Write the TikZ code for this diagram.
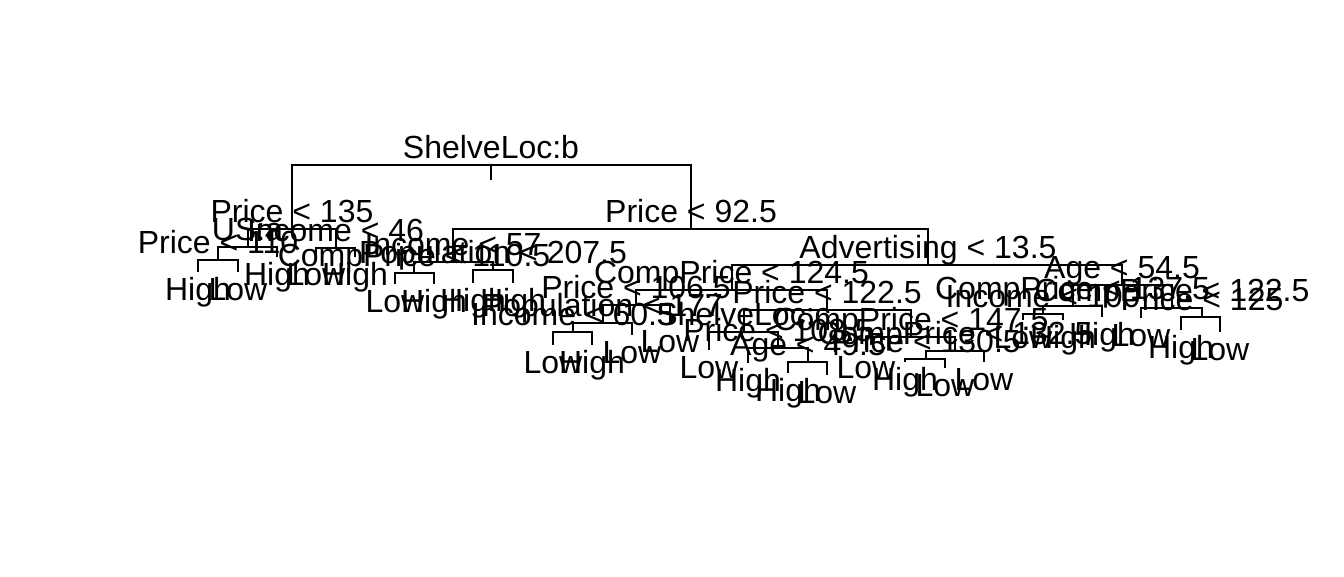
\documentclass[tikz,border=0pt]{standalone}
\usepackage{fontspec}
\setmainfont{Liberation Sans}
\usetikzlibrary{positioning}

\begin{document}
\begin{tikzpicture}[
    x=1pt, y=-1pt,
    split/.style={anchor=base, yshift=7pt, inner sep=0pt, font=\fontsize{32}{38}\selectfont},
    leaf/.style={anchor=base, yshift=-28pt, inner sep=0pt, font=\fontsize{32}{38}\selectfont},
    branch/.style={line width=2pt}
]
\useasboundingbox (0,0) rectangle (1344,576);

% Split points
\coordinate (shelve) at (491,165);
\coordinate (stub) at (491,180);
\coordinate (price135) at (292,229);
\coordinate (price925) at (691,229);
\coordinate (us) at (247.5,247);
\coordinate (inc46) at (335.5,248);
\coordinate (price110) at (218,260);
\coordinate (inc57) at (453,262);
\coordinate (cp1105) at (414,273);
\coordinate (pop2075) at (493,270);
\coordinate (adv) at (928,265);
\coordinate (cp1245) at (731.5,290);
\coordinate (price1065) at (636,305);
\coordinate (pop177) at (602.5,323);
\coordinate (inc605) at (573,332);
\coordinate (price1225) at (827,310);
\coordinate (shelvec) at (743.5,332);
\coordinate (price1085) at (778,348);
\coordinate (age495) at (808,362);
\coordinate (cp1475) at (911,337);
\coordinate (cp1325) at (955,351);
\coordinate (price1305) at (926,359);
\coordinate (age545) at (1122,285);
\coordinate (cp1375) at (1072.5,306);
\coordinate (inc100) at (1043,314);
\coordinate (cp1225) at (1172,308);
\coordinate (price125) at (1202,317);

% Leaves
\coordinate (l0) at (198,272);
\coordinate (l1) at (238,272);
\coordinate (l2) at (277,257);
\coordinate (l3) at (316,257);
\coordinate (l4) at (355,257);
\coordinate (l5) at (395,284);
\coordinate (l6) at (434,284);
\coordinate (l7) at (473,283);
\coordinate (l8) at (513,283);
\coordinate (l9) at (553,345);
\coordinate (l10) at (592,345);
\coordinate (l11) at (632,335);
\coordinate (l12) at (670,324);
\coordinate (l13) at (709,350);
\coordinate (l14) at (748,363);
\coordinate (l15) at (788,373);
\coordinate (l16) at (827,375);
\coordinate (l17) at (866,350);
\coordinate (l18) at (905,362);
\coordinate (l19) at (945,368);
\coordinate (l20) at (984,362);
\coordinate (l21) at (1023,320);
\coordinate (l22) at (1063,320);
\coordinate (l23) at (1102,317);
\coordinate (l24) at (1141,318);
\coordinate (l25) at (1181,330);
\coordinate (l26) at (1220,332);

% Branches
\draw[branch] (shelve) -- (stub);
\foreach \p/\c in {shelve/price135, shelve/price925,
    price135/us, price135/inc46, us/price110, us/l2, price110/l0, price110/l1,
    inc46/l3, inc46/l4,
    price925/inc57, price925/adv, inc57/cp1105, inc57/pop2075,
    cp1105/l5, cp1105/l6, pop2075/l7, pop2075/l8,
    adv/cp1245, adv/age545, cp1245/price1065, cp1245/price1225,
    price1065/pop177, price1065/l12, pop177/inc605, pop177/l11, inc605/l9, inc605/l10,
    price1225/shelvec, price1225/cp1475, shelvec/l13, shelvec/price1085,
    price1085/l14, price1085/age495, age495/l15, age495/l16,
    cp1475/l17, cp1475/cp1325, cp1325/price1305, cp1325/l20,
    price1305/l18, price1305/l19,
    age545/cp1375, age545/cp1225, cp1375/inc100, cp1375/l23,
    inc100/l21, inc100/l22, cp1225/l24, cp1225/price125,
    price125/l25, price125/l26}
    \draw[branch] (\p) -| (\c);

% Split labels
\node[split] (t-shelve) at (shelve) {ShelveLoc:b};
\node[split] (t-price135) at (price135) {Price < 135};
\node[split] (t-price925) at (price925) {Price < 92.5};
\node[split] (t-us) at (us) {US:a};
\node[split] (t-inc46) at (inc46) {Income < 46};
\node[split] (t-price110) at (price110) {Price < 110};
\node[split] (t-inc57) at (inc57) {Income < 57};
\node[split] (t-cp1105) at (cp1105) {CompPrice < 110.5};
\node[split] (t-pop2075) at (pop2075) {Population < 207.5};
\node[split] (t-adv) at (adv) {Advertising < 13.5};
\node[split] (t-cp1245) at (cp1245) {CompPrice < 124.5};
\node[split] (t-price1065) at (price1065) {Price < 106.5};
\node[split] (t-pop177) at (pop177) {Population < 177};
\node[split] (t-inc605) at (inc605) {Income < 60.5};
\node[split] (t-price1225) at (price1225) {Price < 122.5};
\node[split] (t-shelvec) at (shelvec) {ShelveLoc:c};
\node[split] (t-price1085) at (price1085) {Price < 108.5};
\node[split] (t-age495) at (age495) {Age < 49.5};
\node[split] (t-cp1475) at (cp1475) {CompPrice < 147.5};
\node[split] (t-cp1325) at (cp1325) {CompPrice < 132.5};
\node[split] (t-price1305) at (price1305) {Price < 130.5};
\node[split] (t-age545) at (age545) {Age < 54.5};
\node[split] (t-cp1375) at (cp1375) {CompPrice < 137.5};
\node[split] (t-inc100) at (inc100) {Income < 100};
\node[split] (t-cp1225) at (cp1225) {CompPrice < 122.5};
\node[split] (t-price125) at (price125) {Price < 125};

% Leaf labels
\foreach \l/\t in {l0/High, l1/Low, l2/High, l3/Low, l4/High, l5/Low, l6/High,
    l7/High, l8/High, l9/Low, l10/High, l11/Low, l12/Low, l13/Low, l14/High,
    l15/High, l16/Low, l17/Low, l18/High, l19/Low, l20/Low, l21/Low, l22/High,
    l23/High, l24/Low, l25/High, l26/Low}
    \node[leaf] (t-\l) at (\l) {\t};

\end{tikzpicture}
\end{document}
